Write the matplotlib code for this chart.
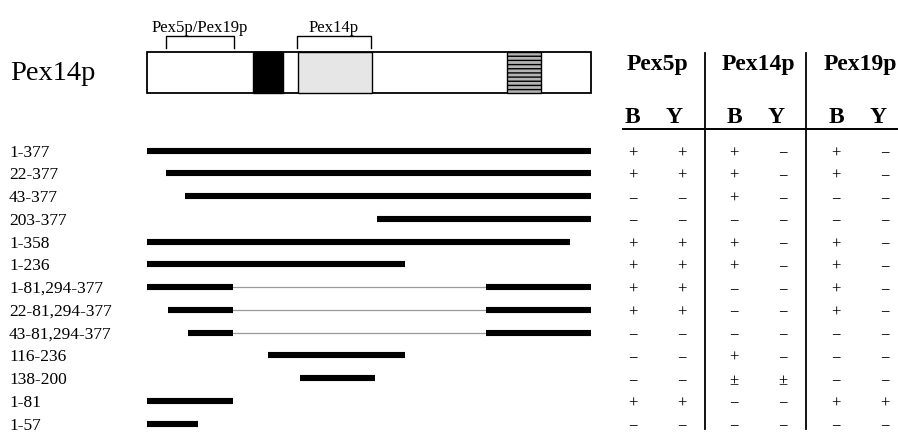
import matplotlib.pyplot as plt
from matplotlib.patches import Rectangle
from matplotlib.transforms import blended_transform_factory

plt.rcParams['font.family'] = ['Liberation Serif', 'DejaVu Serif']

# Pex14p domains, residue scale as drawn in the scheme
tm_block = (91, 116)
coil_block = (129, 192)
hatch_block = (306, 335)
bracket_5p19p = (17, 75)
bracket_14p = (128, 191)

# constructs and the segments drawn for each (residue scale)
constructs = ['1-377', '22-377', '43-377', '203-377', '1-358', '1-236',
              '1-81,294-377', '22-81,294-377', '43-81,294-377',
              '116-236', '138-200', '1-81', '1-57']
segments = [
    [(1, 377)],
    [(17, 377)],
    [(33, 377)],
    [(196, 377)],
    [(1, 360)],
    [(1, 220)],
    [(1, 74), (288, 377)],
    [(18.5, 74), (288, 377)],
    [(35.5, 74), (288, 377)],
    [(104, 220)],
    [(131, 194)],
    [(1, 74)],
    [(1, 44.5)],
]

# binding results: B = in vitro binding, Y = two-hybrid
partners = ['Pex5p', 'Pex14p', 'Pex19p']
pex5p_B  = ['+', '+', '−', '−', '+', '+', '+', '+', '−', '−', '−', '+', '−']
pex5p_Y  = ['+', '+', '−', '−', '+', '+', '+', '+', '−', '−', '−', '+', '−']
pex14p_B = ['+', '+', '+', '−', '+', '+', '−', '−', '−', '+', '±', '−', '−']
pex14p_Y = ['−', '−', '−', '−', '−', '−', '−', '−', '−', '−', '±', '−', '−']
pex19p_B = ['+', '+', '−', '−', '+', '+', '+', '+', '−', '−', '−', '+', '−']
pex19p_Y = ['−', '−', '−', '−', '−', '−', '−', '−', '−', '−', '−', '+', '−']
results = [(pex5p_B, pex5p_Y), (pex14p_B, pex14p_Y), (pex19p_B, pex19p_Y)]

W, H = 898, 433
px_per_res = 443.5 / 376
x_lo = 1 - 147 / px_per_res
x_hi = 1 + (W - 147) / px_per_res
top_h = 110
row_px0, row_step = 150.7, 22.75

fig = plt.figure(figsize=(W / 100, H / 100), dpi=100)

# protein scheme on top
ax_top = fig.add_axes([0, 1 - top_h / H, 1, top_h / H])
ax_top.set_xlim(x_lo, x_hi)
ax_top.set_ylim(top_h, 0)
ax_top.axis('off')
y0, bh = 52.3, 41
ax_top.add_patch(Rectangle((1, y0), 376, bh, fill=False, ec='black', lw=1.3))
ax_top.add_patch(Rectangle((tm_block[0], y0), tm_block[1] - tm_block[0], bh,
                           fc='black', ec='black', lw=1))
ax_top.add_patch(Rectangle((coil_block[0], y0), coil_block[1] - coil_block[0], bh,
                           fc='#e6e6e6', ec='black', lw=1))
ax_top.add_patch(Rectangle((hatch_block[0], y0), hatch_block[1] - hatch_block[0], bh,
                           fc='#b4b4b4', ec='black', lw=1, hatch='----'))
for (a, b), name in [(bracket_5p19p, 'Pex5p/Pex19p'), (bracket_14p, 'Pex14p')]:
    ax_top.plot([a, a, b, b], [48.3, 35.7, 35.7, 48.3], color='black', lw=1)
    ax_top.text((a + b) / 2, 31.5, name, ha='center', va='baseline', fontsize=12)
tr = blended_transform_factory(ax_top.transAxes, ax_top.transData)
ax_top.text(10 / W, 80, 'Pex14p', transform=tr, ha='left', va='baseline', fontsize=20.5)

# construct map
ax = fig.add_axes([0, 0, 1, (H - top_h) / H])
ax.set_xlim(x_lo, x_hi)
ax.set_ylim((H - row_px0) / row_step, (top_h - row_px0) / row_step)
ax.axis('off')
tr = blended_transform_factory(ax.transAxes, ax.transData)
for i, (name, segs) in enumerate(zip(constructs, segments)):
    ax.text(9 / W, i + 0.26, name, transform=tr, ha='left', va='baseline', fontsize=12.5)
    if len(segs) > 1:
        ax.plot([segs[0][1], segs[1][0]], [i, i], color='#9a9a9a', lw=0.9)
    for a, b in segs:
        ax.plot([a, b], [i, i], color='black', lw=4.4, solid_capstyle='butt')

# results table
ax_t = fig.add_axes([600 / W, 0, 298 / W, 1])
g_px0, g_step, t_px0, t_step = 657, 101.7, 153.3, 22.75
ax_t.set_xlim((600 - g_px0) / g_step, (898 - g_px0) / g_step)
ax_t.set_ylim((H - t_px0) / t_step, -t_px0 / t_step)
ax_t.axis('off')
for g, (name, (col_b, col_y)) in enumerate(zip(partners, results)):
    ax_t.text(g, -3.66, name, ha='center', va='baseline', fontsize=17, fontweight='bold')
    ax_t.text(g - 0.24, -1.34, 'B', ha='center', va='baseline', fontsize=17, fontweight='bold')
    ax_t.text(g + 0.17, -1.34, 'Y', ha='center', va='baseline', fontsize=17, fontweight='bold')
    for i in range(len(constructs)):
        ax_t.text(g - 0.24, i, col_b[i], ha='center', va='center', fontsize=12)
        ax_t.text(g + 0.24, i, col_y[i], ha='center', va='center', fontsize=12)
ax_t.plot([(623 - g_px0) / g_step, (898 - g_px0) / g_step], [-1.05, -1.05], color='black', lw=1.4)
for xv in [0.47, 1.47]:
    ax_t.plot([xv, xv], [-4.4, 12.1], color='black', lw=1.3)

fig.savefig('out.png', dpi=100)
